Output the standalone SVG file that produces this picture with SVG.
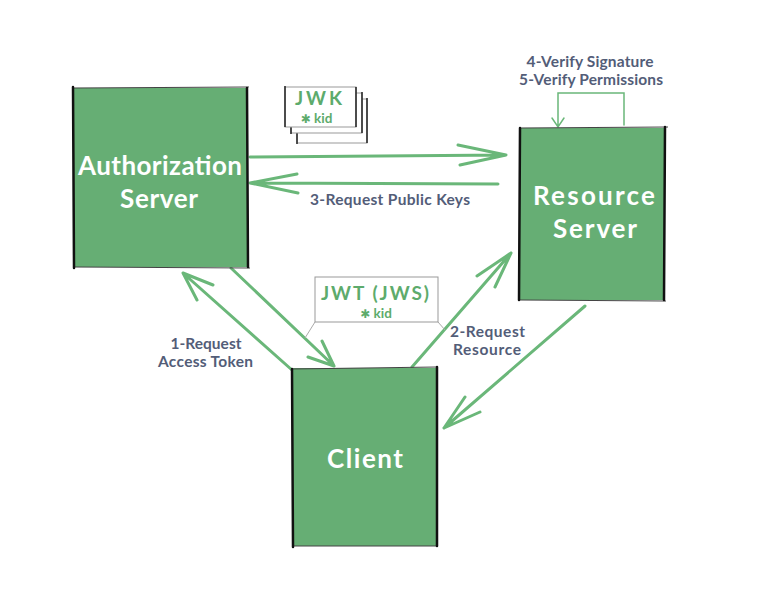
<svg xmlns="http://www.w3.org/2000/svg" width="770" height="597" viewBox="0 0 770 597">
<style>
.box{fill:#66ae74}
.side{stroke:#111;stroke-width:2.5;stroke-linecap:round;fill:none}
.tb{stroke:#444;stroke-width:1.2;fill:none}
.btxt{font-family:Lato,"Open Sans",sans-serif;font-weight:bold;fill:#fff;font-size:26px;text-anchor:middle}
.lbl{font-family:Lato,"Open Sans",sans-serif;font-weight:bold;fill:#535d78;font-size:15.5px;text-anchor:middle}
.gt{font-family:Lato,"Open Sans",sans-serif;font-weight:bold;fill:#5dab6c;text-anchor:middle}
.star{font-family:"DejaVu Sans",sans-serif;font-size:12px}
.arr{stroke:#6ab779;stroke-width:3;fill:none;stroke-linecap:round;stroke-linejoin:round}
.thin{stroke:#6ab779;stroke-width:1.5;fill:none;stroke-linecap:round}
.card{fill:#fff;stroke:#999;stroke-width:1}
.cardside{stroke:#222;stroke-width:1.5;fill:none}
.lead{stroke:#aaa;stroke-width:1;fill:none}
</style>
<rect width="770" height="597" fill="#fff"/>

<g id="connectors">
  <!-- AS -> RS -->
  <path class="arr" d="M250,157 L506,155 M458,145 L506,155 L460,165"/>
  <!-- RS -> AS -->
  <path class="arr" d="M498,184 L250,183 M297,174 L250,183 L298,193"/>
  <!-- AS -> Client -->
  <path class="arr" d="M231,268 L334,366 M322,341 L334,366 L308,357"/>
  <!-- Client -> AS -->
  <path class="arr" d="M292,370 L183,273 M213,285 L183,273 L197,300"/>
  <!-- Client -> RS -->
  <path class="arr" d="M412,367 L511,253 M477,276 L511,253 L495,287"/>
  <!-- RS -> Client -->
  <path class="arr" d="M585,306 L444,428 M465,397 L444,428 L480,412"/>
  <!-- self loop -->
  <path class="thin" d="M624,125 L624,93 L558,93 L558,127 M552,118 L558,127 L564,118"/>
</g>

<g id="auth-server">
  <rect class="box" x="73" y="88" width="175" height="179"/>
  <path class="tb" d="M72,88 L249,87 M74,267 L250,268"/>
  <path class="side" d="M73,87 L74,268 M247,88 L248,267"/>
  <text class="btxt" x="160" y="175" textLength="164" lengthAdjust="spacing">Authorization</text>
  <text class="btxt" x="159" y="208" textLength="78" lengthAdjust="spacing">Server</text>
</g>

<g id="resource-server">
  <rect class="box" x="520" y="128" width="145" height="172"/>
  <path class="tb" d="M519,128 L668,127 M520,300 L666,301"/>
  <path class="side" d="M520,128 L519,300 M665,127 L664,300"/>
  <text class="btxt" x="594" y="205" textLength="122" lengthAdjust="spacing">Resource</text>
  <text class="btxt" x="595" y="238" textLength="84" lengthAdjust="spacing">Server</text>
</g>

<g id="client">
  <rect class="box" x="292" y="368" width="145" height="178"/>
  <path class="tb" d="M291,369 L437,367 M293,546 L438,546"/>
  <path class="side" d="M292,369 L293,547 M437,367 L437,546"/>
  <text class="btxt" x="365" y="468" textLength="76" lengthAdjust="spacing">Client</text>
</g>

<g id="jwk">
  <rect class="card" x="297" y="99" width="70" height="44"/>
  <path class="cardside" d="M297,128 L297,144 M367,98 L367,143"/>
  <rect class="card" x="291" y="93" width="71" height="40"/>
  <path class="cardside" d="M291,120 L291,134 M362,92 L362,133"/>
  <rect class="card" x="285" y="87" width="71" height="40"/>
  <path class="cardside" d="M285,86 L285,127 M356,87 L356,127"/>
  <text class="gt" x="318.5" y="105" font-size="19" textLength="47" lengthAdjust="spacing">JWK</text>
  <text class="gt" x="316.5" y="123" font-size="13.5"><tspan class="star">✱</tspan> kid</text>
</g>

<g id="jwt">
  <path class="lead" d="M315,322 L305,338 M438,322 L445,330"/>
  <rect class="card" x="315" y="277" width="123" height="45" stroke="#666"/>
  <text class="gt" x="375" y="300" font-size="19" textLength="108" lengthAdjust="spacing">JWT (JWS)</text>
  <text class="gt" x="376" y="318" font-size="13.5"><tspan class="star">✱</tspan> kid</text>
</g>

<g id="labels">
  <text class="lbl" x="590" y="67" textLength="127" lengthAdjust="spacing">4-Verify Signature</text>
  <text class="lbl" x="591" y="85" textLength="144" lengthAdjust="spacing">5-Verify Permissions</text>
  <text class="lbl" x="390" y="205" textLength="160" lengthAdjust="spacing">3-Request Public Keys</text>
  <text class="lbl" x="206" y="349" textLength="71" lengthAdjust="spacing">1-Request</text>
  <text class="lbl" x="205.5" y="367" textLength="95" lengthAdjust="spacing">Access Token</text>
  <text class="lbl" x="487.5" y="337" textLength="75" lengthAdjust="spacing">2-Request</text>
  <text class="lbl" x="487" y="355" textLength="68" lengthAdjust="spacing">Resource</text>
</g>
</svg>
